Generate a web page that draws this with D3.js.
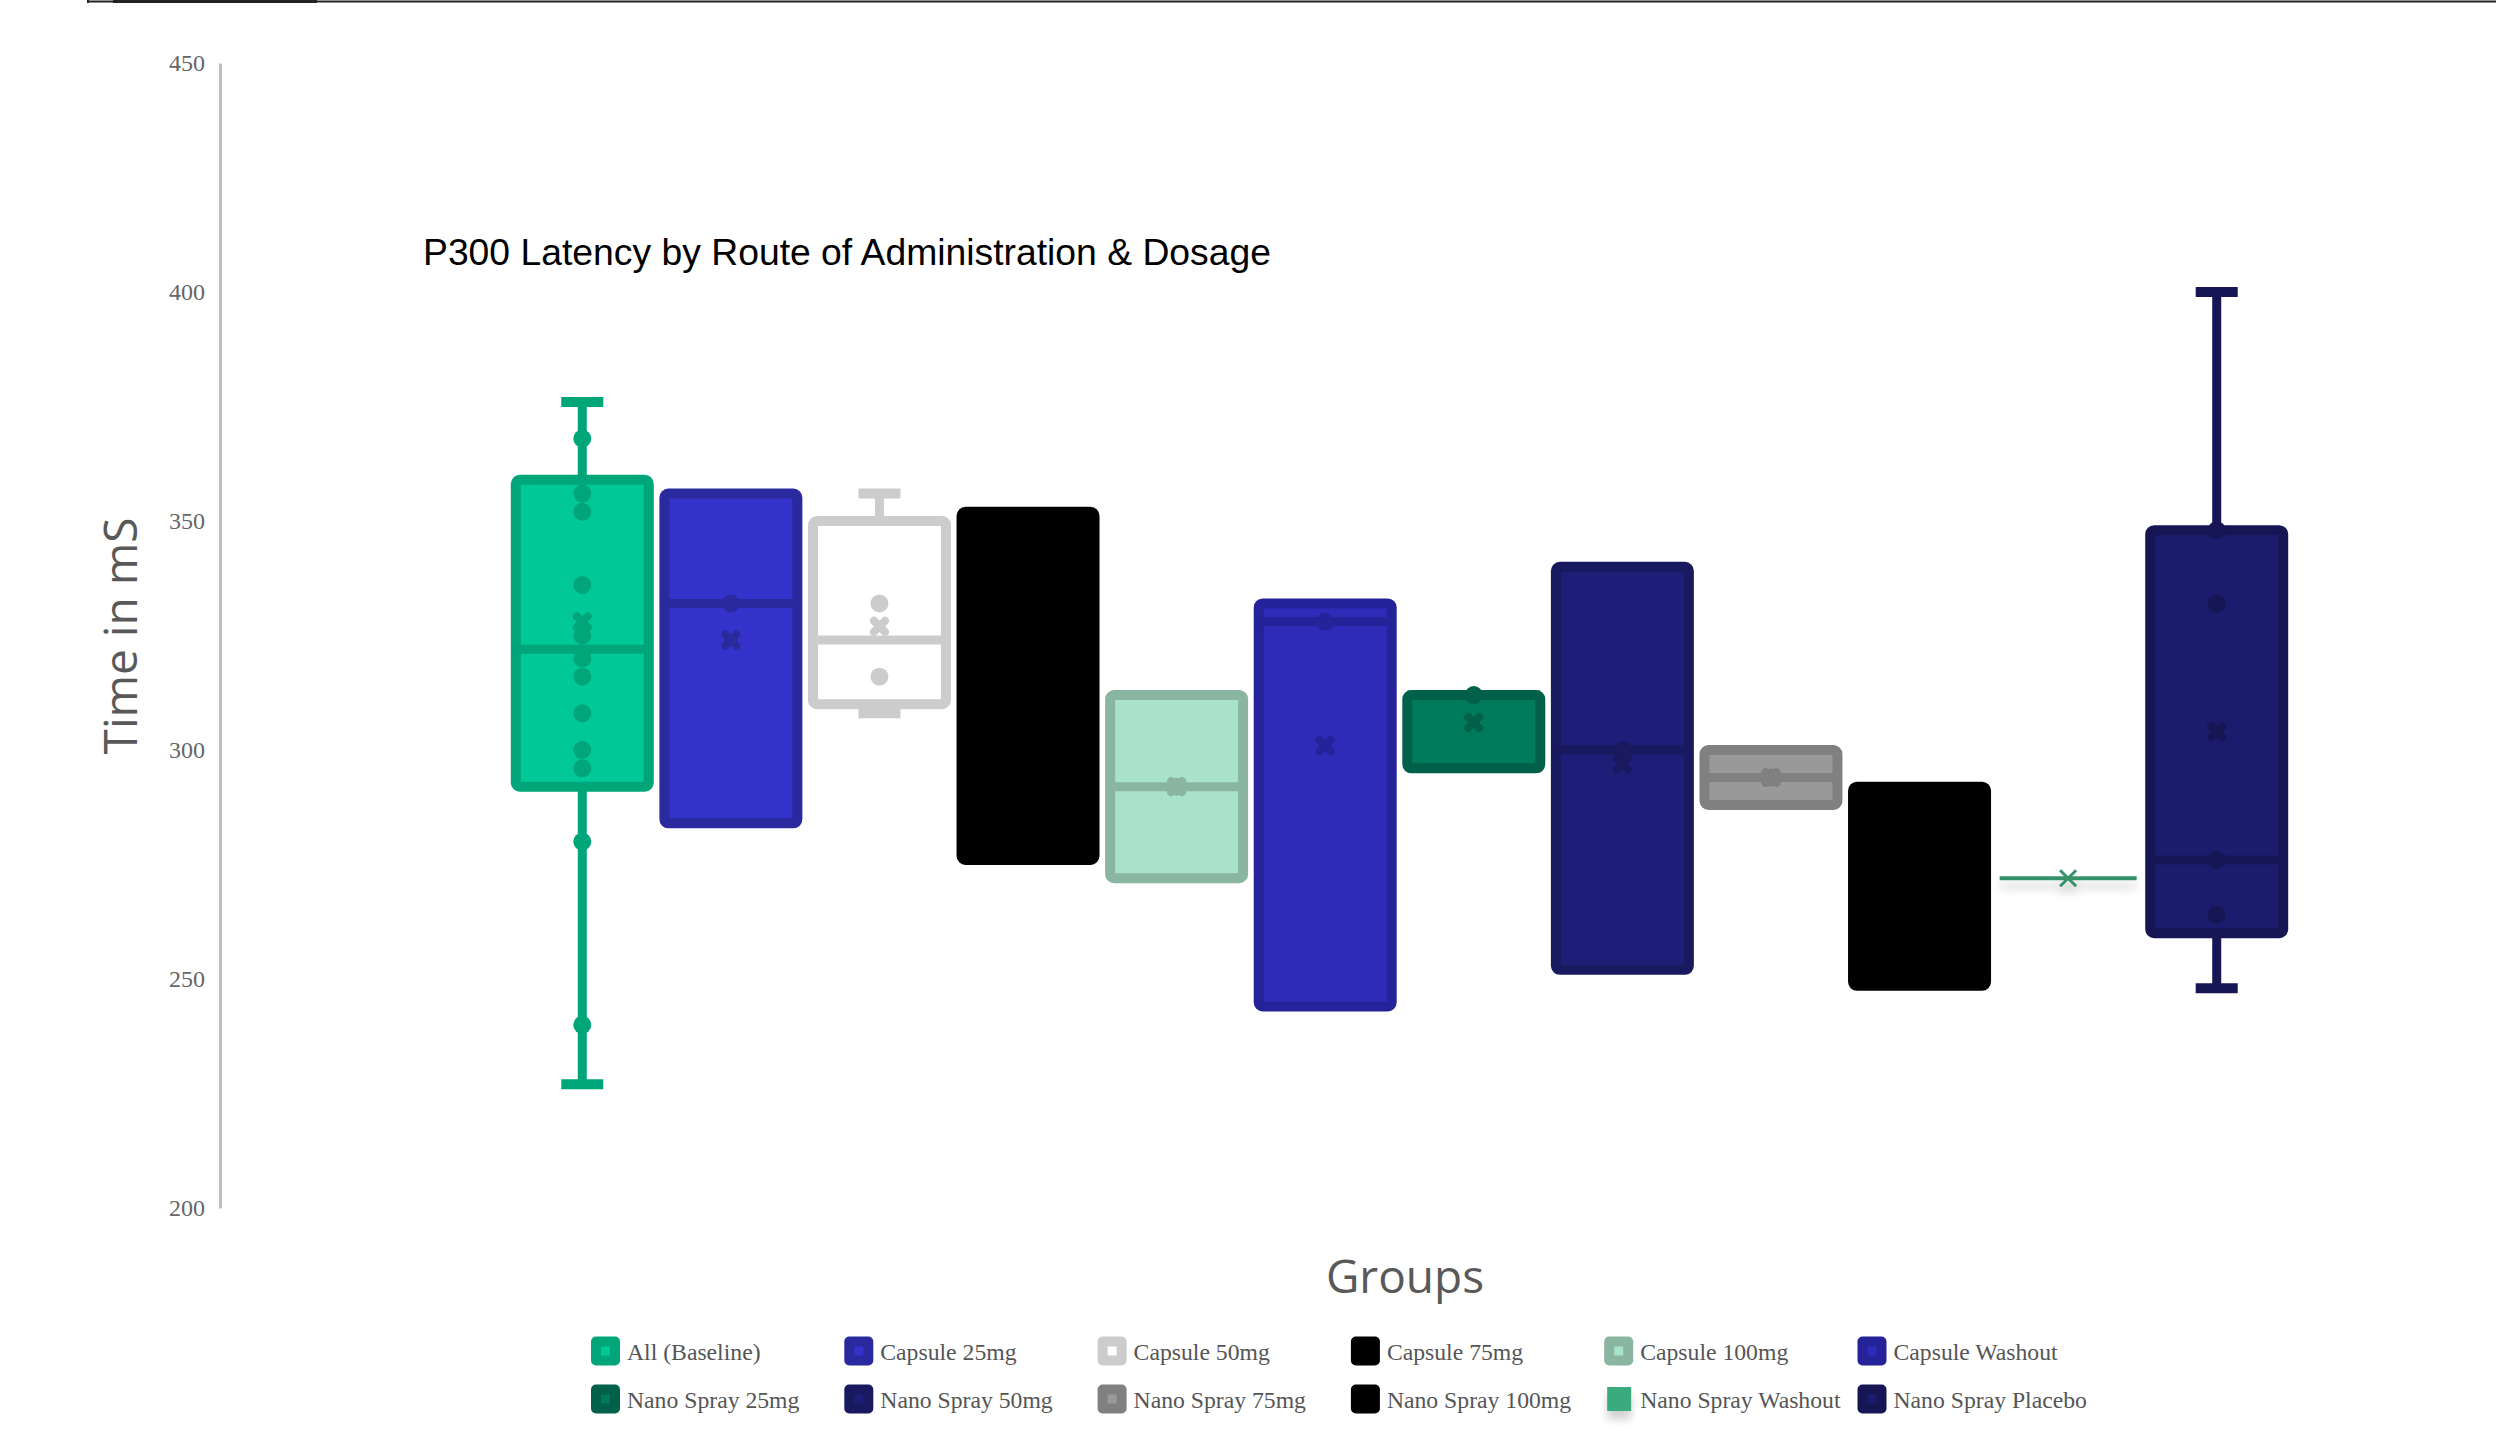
<!DOCTYPE html>
<html>
<head>
<meta charset="utf-8">
<script src="https://cdn.jsdelivr.net/npm/d3@7"></script>
<style>
  html, body { margin: 0; padding: 0; background: #ffffff; }
  svg { display: block; }
</style>
</head>
<body>
<script>
// P300 latency box plots, one box per group
const groups = [
  "All (Baseline)", "Capsule 25mg", "Capsule 50mg", "Capsule 75mg",
  "Capsule 100mg", "Capsule Washout", "Nano Spray 25mg", "Nano Spray 50mg",
  "Nano Spray 75mg", "Nano Spray 100mg", "Nano Spray Washout", "Nano Spray Placebo"
];
const whiskerLow   = [227, 284, 308, 276, 272, 244, 296, 252, 288, 248.5, 272, 248];
const quartileLow  = [292, 284, 310, 276, 272, 244, 296, 252, 288, 248.5, 272, 260];
const medians      = [322, 332, 324, 313, 292, 328, 312, 300, 294, 270, 272, 276];
const quartileHigh = [359, 356, 350, 352, 312, 332, 312, 340, 300, 292, 272, 348];
const whiskerHigh  = [376, 356, 356, 352, 312, 332, 312, 340, 300, 292, 272, 400];
const means        = [328, 324, 327, 313, 292, 301, 306, 297, 294, 270, 272, 304];
const pointValues = [
  [368, 356, 352, 336, 325, 320, 316, 308, 300, 296, 280, 240],
  [332],
  [332, 316],
  [],
  [292],
  [328],
  [312],
  [300],
  [294],
  [],
  [],
  [348, 332, 276, 264]
];
const fillColors   = ["#00c896", "#3333cc", "#ffffff", "#000000", "#a8e2cb", "#2e2bb8",
                      "#007a5c", "#1e1e78", "#999999", "#000000", "#3aaa7b", "#1c1c6e"];
const strokeColors = ["#00a57a", "#2a2a9e", "#cccccc", "#000000", "#8ab5a0", "#25229a",
                      "#00604a", "#19195f", "#808080", "#000000", "#35916b", "#161655"];
const yTicks = [200, 250, 300, 350, 400, 450];

const chartTitle = "P300 Latency by Route of Administration & Dosage";
const yTitle = "Time in mS";
const xTitle = "Groups";

const W = 2496, H = 1431;
const svg = d3.select("body").append("svg").attr("width", W).attr("height", H);

const defs = svg.append("defs");
const shadow = defs.append("filter").attr("id", "softShadow")
  .attr("x", "-20%").attr("y", "-200%").attr("width", "140%").attr("height", "600%");
shadow.append("feDropShadow").attr("dx", 0).attr("dy", 8).attr("stdDeviation", 4)
  .attr("flood-color", "#000").attr("flood-opacity", 0.18);

// frame edge along the top
const frame = svg.append("g").attr("stroke", "#222").attr("fill", "none");
frame.append("line").attr("x1", 88).attr("x2", W).attr("y1", 1.5).attr("y2", 1.5).attr("stroke-width", 2);
frame.append("line").attr("x1", 114).attr("x2", 316).attr("y1", 1.5).attr("y2", 1.5).attr("stroke-width", 3);
[88, 114, 316].forEach(xv => frame.append("line").attr("x1", xv).attr("x2", xv).attr("y1", 0).attr("y2", 3).attr("stroke-width", 2));

const x = d3.scaleBand().domain(groups).range([508, 2291]).padding(0);
const y = d3.scaleLinear().domain([200, 450]).range([1208, 63]);

// y axis
const yAxis = svg.append("g").attr("transform", "translate(220,0)")
  .call(d3.axisLeft(y).tickValues(yTicks).tickSize(0).tickPadding(15));
yAxis.select(".domain").attr("stroke", "#bfbfbf").attr("stroke-width", 3);
yAxis.selectAll("text")
  .attr("font-family", "'Liberation Serif', serif")
  .attr("font-size", 24).attr("fill", "#666");

// titles
svg.append("text").attr("x", 423).attr("y", 265)
  .attr("font-family", "'Liberation Sans', Arial, sans-serif")
  .attr("font-size", 37.3).attr("fill", "#000").text(chartTitle);

svg.append("text").attr("transform", "translate(137,636) rotate(-90)")
  .attr("text-anchor", "middle")
  .attr("font-family", "'Open Sans', sans-serif")
  .attr("font-size", 46).attr("fill", "#595959").text(yTitle);

svg.append("text").attr("x", 1405).attr("y", 1293)
  .attr("text-anchor", "middle")
  .attr("font-family", "'Open Sans', sans-serif")
  .attr("font-size", 46).attr("fill", "#595959").text(xTitle);

// boxes
const bw = x.bandwidth();
const boxW = bw * 0.895;
const capW = 42;
const meanPath = "M-5.5,-5.5L5.5,5.5M-5.5,5.5L5.5,-5.5";

const plot = svg.append("g");
groups.forEach((g, i) => {
  const cx = x(g) + bw / 2;
  const fill = fillColors[i], stroke = strokeColors[i];
  const grp = plot.append("g");

  if (quartileLow[i] === quartileHigh[i]) {
    // single-value group: flat line with a thin cross at the mean
    const flat = grp.append("g").attr("filter", "url(#softShadow)");
    flat.append("line")
      .attr("x1", cx - boxW / 2 - 2).attr("x2", cx + boxW / 2 + 2)
      .attr("y1", y(medians[i])).attr("y2", y(medians[i]))
      .attr("stroke", stroke).attr("stroke-width", 4);
    const my = y(means[i]), s = 8;
    flat.append("path")
      .attr("d", `M${cx - s},${my - s}L${cx + s},${my + s}M${cx - s},${my + s}L${cx + s},${my - s}`)
      .attr("stroke", stroke).attr("stroke-width", 3).attr("fill", "none");
    return;
  }

  // whiskers
  if (whiskerHigh[i] > quartileHigh[i]) {
    grp.append("line").attr("x1", cx).attr("x2", cx)
      .attr("y1", y(quartileHigh[i])).attr("y2", y(whiskerHigh[i]))
      .attr("stroke", stroke).attr("stroke-width", 9);
    grp.append("line").attr("x1", cx - capW / 2).attr("x2", cx + capW / 2)
      .attr("y1", y(whiskerHigh[i])).attr("y2", y(whiskerHigh[i]))
      .attr("stroke", stroke).attr("stroke-width", 10);
  }
  if (whiskerLow[i] < quartileLow[i]) {
    grp.append("line").attr("x1", cx).attr("x2", cx)
      .attr("y1", y(quartileLow[i])).attr("y2", y(whiskerLow[i]))
      .attr("stroke", stroke).attr("stroke-width", 9);
    grp.append("line").attr("x1", cx - capW / 2).attr("x2", cx + capW / 2)
      .attr("y1", y(whiskerLow[i])).attr("y2", y(whiskerLow[i]))
      .attr("stroke", stroke).attr("stroke-width", 10);
  }

  // box
  grp.append("rect")
    .attr("x", cx - boxW / 2).attr("y", y(quartileHigh[i]))
    .attr("width", boxW).attr("height", y(quartileLow[i]) - y(quartileHigh[i]))
    .attr("rx", 4).attr("fill", fill).attr("stroke", stroke).attr("stroke-width", 10);

  // median
  grp.append("line")
    .attr("x1", cx - boxW / 2).attr("x2", cx + boxW / 2)
    .attr("y1", y(medians[i])).attr("y2", y(medians[i]))
    .attr("stroke", stroke).attr("stroke-width", 9);

  // individual points
  grp.selectAll("circle").data(pointValues[i]).join("circle")
    .attr("cx", cx).attr("cy", d => y(d)).attr("r", 9).attr("fill", stroke);

  // mean marker
  grp.append("path").attr("d", meanPath)
    .attr("transform", `translate(${cx},${y(means[i])})`)
    .attr("fill", "none").attr("stroke", stroke)
    .attr("stroke-width", 8).attr("stroke-linecap", "round");
});

// legend
const legend = svg.append("g");
groups.forEach((g, i) => {
  const row = Math.floor(i / 6), col = i % 6;
  const lx = 591 + col * 253.3;
  const ly = 1351 + row * 48;
  const item = legend.append("g");
  if (quartileLow[i] === quartileHigh[i]) {
    item.append("rect").attr("x", lx + 3).attr("y", ly - 12)
      .attr("width", 24).attr("height", 24)
      .attr("fill", fillColors[i]).attr("filter", "url(#softShadow)");
  } else {
    item.append("rect").attr("x", lx).attr("y", ly - 14.5)
      .attr("width", 29).attr("height", 29).attr("rx", 5)
      .attr("fill", strokeColors[i]);
    item.append("rect").attr("x", lx + 10).attr("y", ly - 4.5)
      .attr("width", 9).attr("height", 9)
      .attr("fill", fillColors[i]);
  }
  item.append("text").attr("x", lx + 36).attr("y", ly + 9)
    .attr("font-family", "'Liberation Serif', serif")
    .attr("font-size", 23.7).attr("fill", "#555").text(g);
});
</script>
</body>
</html>
